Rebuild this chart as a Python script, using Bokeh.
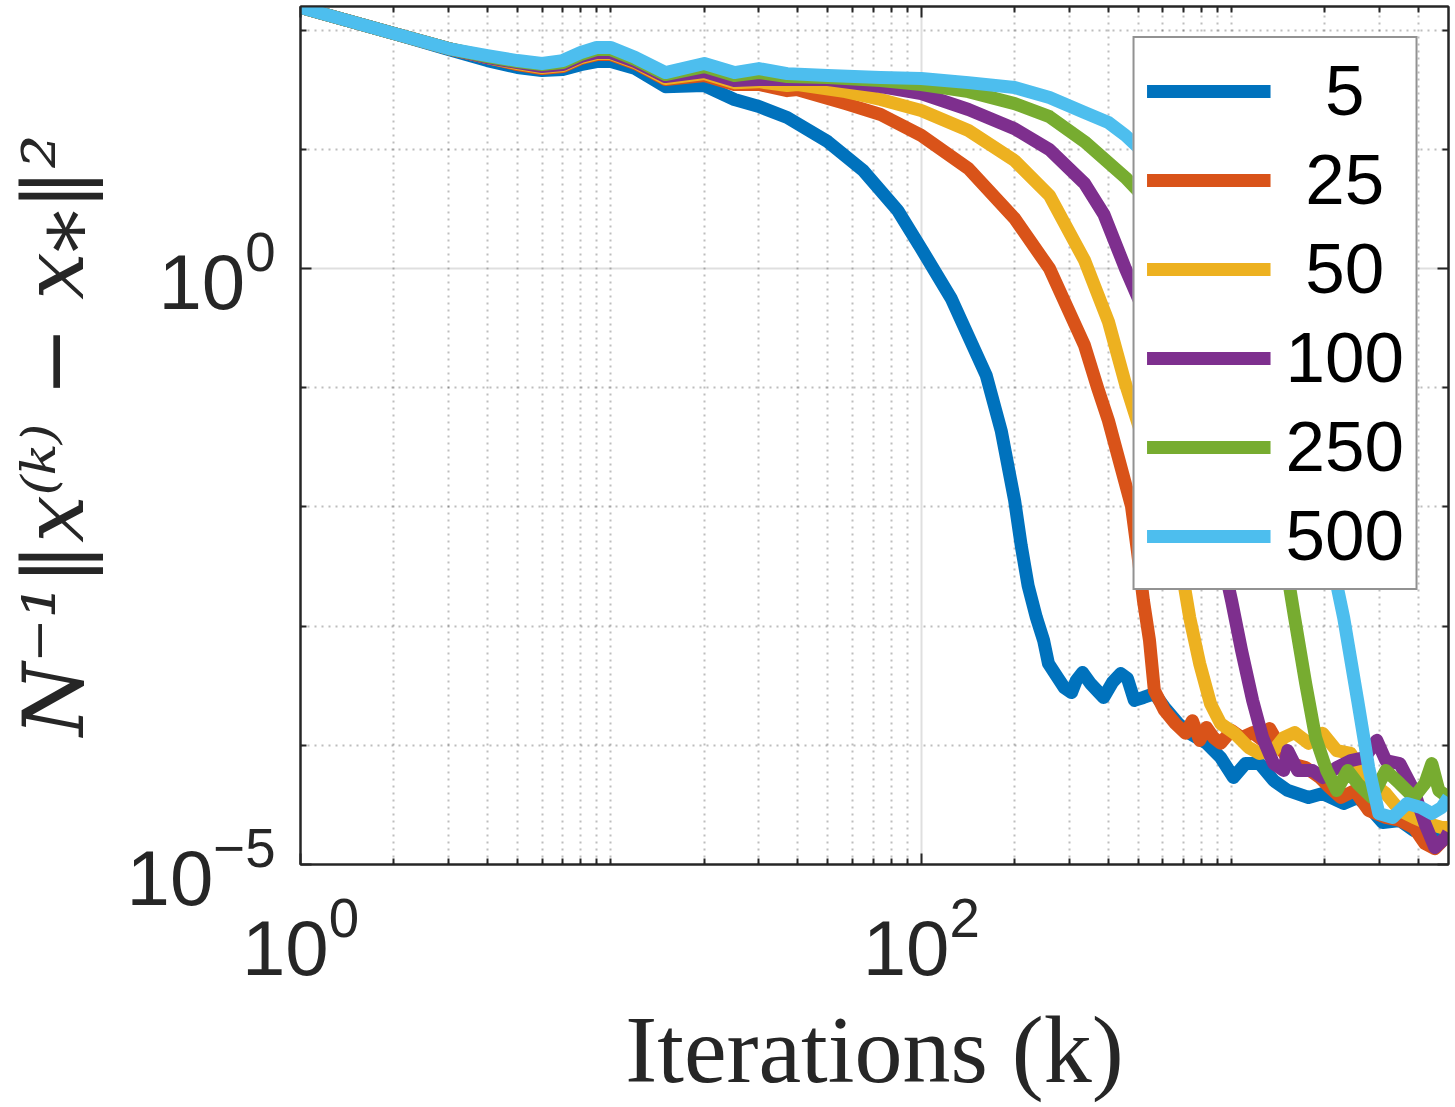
from bokeh.plotting import figure
from bokeh.models import Range1d, FixedTicker, LogAxis, Legend, LegendItem
from bokeh.embed import file_html
from bokeh.resources import INLINE

# ---------------- data ----------------
series_labels = ["5", "25", "50", "100", "250", "500"]
legend_texts = ["\u20075", "\u200825", "\u200850", "100", "250", "500"]
series_colors = ["#0072BD", "#D95319", "#EDB120", "#7E2F8E", "#77AC30", "#4DBEEE"]

k_5 = [1, 2, 3, 4, 5, 6, 7, 8, 9, 10, 12, 15, 20, 25, 30, 37, 50, 65, 84, 100,
       125, 162, 181, 200, 210, 221, 235, 248, 257, 275, 289, 305, 316, 331, 351,
       387, 413, 439, 462, 486, 520, 564, 608, 674, 733, 830, 922, 1014, 1109,
       1231, 1366, 1517, 1771, 1966, 2297, 2548, 2831, 3070, 3483, 3866, 4289,
       4757, 5000]
v_5 = [155, 93.6, 68.7, 55.6, 48.6, 45.8, 46.7, 51.4, 54.5, 54.5, 47.6, 33.6,
       34.3, 26.2, 22.9, 18.5, 11.6, 6.64, 3.07, 1.47, 0.560, 0.127, 0.0437,
       0.0113, 0.00474, 0.00219, 0.00118, 7.57e-4, 4.86e-4, 3.71e-4, 3.05e-4,
       2.77e-4, 3.50e-4, 4.08e-4, 3.30e-4, 2.52e-4, 3.37e-4, 4.00e-4, 3.63e-4,
       2.38e-4, 2.52e-4, 2.72e-4, 2.08e-4, 1.52e-4, 1.26e-4, 1.04e-4, 7.90e-5,
       5.37e-5, 7.03e-5, 7.03e-5, 5.07e-5, 4.18e-5, 3.65e-5, 3.94e-5, 3.25e-5,
       3.65e-5, 2.84e-5, 2.25e-5, 2.34e-5, 1.93e-5, 2.04e-5, 1.82e-5, 1.93e-5]

k_25 = [1, 2, 3, 4, 5, 6, 7, 8, 9, 10, 12, 15, 20, 25, 30, 37, 40, 57, 74, 100,
        142, 200, 259, 336, 370, 401, 476, 497, 520, 544, 564, 608, 659, 711,
        748, 789, 830, 875, 922, 1000, 1077, 1169, 1259, 1326, 1439, 1549, 1733,
        1923, 2070, 2248, 2494, 2766, 3141, 3483, 3866, 4196, 4519, 4898, 5000]
v_25 = [155, 93.6, 70.1, 58.9, 51.4, 47.6, 49.5, 57.8, 62.4, 62.4, 52.5, 38.5,
        41.6, 35.0, 35.0, 31.1, 31.7, 24.2, 19.6, 13.1, 6.90, 2.63, 1.0, 0.226,
        0.100, 0.0531, 0.0101, 0.00431, 0.00164, 7.57e-4, 2.88e-4, 1.96e-4,
        1.52e-4, 1.26e-4, 1.61e-4, 1.10e-4, 1.41e-4, 1.16e-4, 1.04e-4, 1.33e-4,
        1.16e-4, 1.28e-4, 1.10e-4, 1.38e-4, 9.59e-5, 7.03e-5, 6.51e-5, 5.37e-5,
        4.43e-5, 3.65e-5, 4.18e-5, 2.84e-5, 2.48e-5, 2.34e-5, 2.04e-5, 1.50e-5,
        1.36e-5, 1.68e-5, 1.85e-5]

k_50 = [1, 2, 3, 4, 5, 6, 7, 8, 9, 10, 12, 15, 20, 25, 30, 37, 40, 57, 74, 100,
        142, 200, 259, 336, 401, 455, 520, 594, 674, 733, 789, 855, 922, 1023,
        1135, 1231, 1366, 1472, 1596, 1771, 1966, 2182, 2421, 2685, 3141, 3483,
        3866, 4289, 4757, 5000]
v_50 = [155, 93.6, 70.1, 58.9, 52.5, 48.6, 50.5, 58.9, 63.6, 63.6, 53.5, 39.3,
        43.2, 36.3, 37.0, 34.3, 35.0, 30.5, 26.2, 21.2, 14.4, 8.05, 4.10, 1.17,
        0.359, 0.108, 0.0361, 0.00933, 0.00431, 0.00118, 4.86e-4, 2.24e-4,
        1.52e-4, 1.26e-4, 9.59e-5, 8.54e-5, 9.04e-5, 1.16e-4, 1.28e-4, 1.04e-4,
        1.26e-4, 9.04e-5, 8.54e-5, 5.37e-5, 3.94e-5, 2.84e-5, 2.48e-5, 2.21e-5,
        2.04e-5, 2.04e-5]

k_100 = [1, 2, 3, 4, 5, 6, 7, 8, 9, 10, 12, 15, 20, 25, 30, 37, 50, 74, 100,
         142, 200, 259, 336, 388, 455, 555, 687, 800, 922, 1000, 1077, 1169,
         1259, 1366, 1472, 1517, 1633, 1824, 1966, 2182, 2421, 2685, 2938, 3141,
         3483, 3866, 4196, 4519, 4898, 5000]
v_100 = [155, 93.6, 70.1, 58.9, 53.5, 49.5, 51.4, 60.1, 64.9, 64.9, 54.5, 40.8,
         44.9, 37.8, 38.5, 38.5, 38.5, 33.6, 29.4, 21.6, 14.9, 9.96, 5.17, 2.84,
         1.0, 0.302, 0.0531, 0.0137, 0.00431, 0.00164, 6.24e-4, 2.38e-4,
         1.16e-4, 7.03e-5, 6.15e-5, 9.04e-5, 6.15e-5, 6.15e-5, 5.37e-5, 6.51e-5,
         7.45e-5, 7.90e-5, 1.10e-4, 7.45e-5, 7.03e-5, 4.18e-5, 2.21e-5, 1.39e-5,
         1.68e-5, 1.85e-5]

k_250 = [1, 2, 3, 4, 5, 6, 7, 8, 9, 10, 12, 15, 20, 25, 30, 37, 50, 74, 100,
         142, 200, 259, 336, 455, 594, 800, 1077, 1290, 1472, 1596, 1733, 1866,
         2025, 2182, 2367, 2548, 2831, 3141, 3483, 3866, 4196, 4417, 4654, 5000]
v_250 = [155, 93.6, 70.1, 60.1, 54.5, 51.4, 53.5, 62.4, 68.7, 68.7, 56.7, 42.4,
         49.5, 41.6, 44.1, 40.8, 40.0, 37.8, 35.0, 30.5, 24.2, 18.8, 11.6, 5.80,
         2.78, 0.654, 0.0781, 0.0137, 0.00431, 0.00118, 3.30e-4, 1.16e-4,
         6.15e-5, 4.18e-5, 6.15e-5, 4.78e-5, 3.65e-5, 6.15e-5, 4.78e-5, 3.65e-5,
         4.78e-5, 7.03e-5, 4.18e-5, 3.65e-5]

k_500 = [1, 2, 3, 4, 5, 6, 7, 8, 9, 10, 12, 15, 20, 25, 30, 37, 50, 74, 100,
         142, 200, 259, 336, 401, 455, 600, 900, 1300, 1700, 2070, 2297, 2548,
         2766, 2981, 3306, 3673, 4074, 4417, 4757, 5000]
v_500 = [155, 93.6, 70.1, 61.2, 55.6, 52.5, 55.6, 64.9, 71.5, 71.5, 58.9, 44.1,
         52.5, 44.1, 47.6, 43.2, 41.6, 40.0, 39.3, 36.3, 33.0, 27.2, 20.4, 16.8,
         13.1, 6.64, 1.72, 0.249, 0.0361, 0.00431, 0.00118, 2.38e-4, 6.51e-5,
         2.68e-5, 2.48e-5, 3.25e-5, 3.01e-5, 2.68e-5, 3.01e-5, 3.65e-5]

x_major_ticks = [1, 100]
x_minor_ticks = [2, 3, 4, 5, 6, 7, 8, 9, 10, 20, 30, 40, 50, 60, 70, 80, 90,
                 200, 300, 400, 500, 600, 700, 800, 900, 1000, 2000, 3000, 4000]
y_major_ticks = [1e-5, 1]
y_minor_ticks = [1e-4, 1e-3, 1e-2, 1e-1, 10, 100]

x_limits = (1, 5000)
y_limits = (1e-5, 158)

all_k = [k_5, k_25, k_50, k_100, k_250, k_500]
all_v = [v_5, v_25, v_50, v_100, v_250, v_500]

# ---------------- figure ----------------
DARK = "#262626"
p = figure(width=1455, height=1107, x_axis_type="log", y_axis_type="log",
           x_range=Range1d(*x_limits), y_range=Range1d(*y_limits),
           output_backend="svg", toolbar_location=None,
           min_border_left=300, min_border_right=7, min_border_top=6,
           min_border_bottom=243)
p.background_fill_color = "white"
p.border_fill_color = "white"
p.outline_line_color = DARK
p.outline_line_width = 2

xt = FixedTicker(ticks=x_major_ticks, minor_ticks=x_minor_ticks)
yt = FixedTicker(ticks=y_major_ticks, minor_ticks=y_minor_ticks)

xax = p.xaxis[0]
yax = p.yaxis[0]


def style_axis(ax, ticker, labels=True):
    ax.ticker = ticker
    ax.major_tick_in = 11
    ax.major_tick_out = 0
    ax.minor_tick_in = 6
    ax.minor_tick_out = 0
    ax.major_tick_line_color = DARK
    ax.minor_tick_line_color = DARK
    ax.major_tick_line_width = 2
    ax.minor_tick_line_width = 2
    ax.axis_line_color = DARK
    ax.axis_line_width = 2
    if labels:
        ax.major_label_text_font = "Liberation Sans"
        ax.major_label_text_font_size = "78px"
        ax.major_label_text_color = DARK
    else:
        ax.major_label_text_font_size = "1px"
        ax.major_label_text_color = None
        ax.major_label_standoff = 0


style_axis(xax, xt)
style_axis(yax, yt)
xax.major_label_standoff = 30
yax.major_label_standoff = 25

xax.axis_label = "Iterations (k)"
yax.axis_label = "N\u207b\u00b9\u2016x\u207d\u1d4f\u207e \u2212 x\u204e\u2016\u00b2"
xax.axis_label_text_font = "Liberation Serif"
xax.axis_label_text_font_size = "96px"
xax.axis_label_text_font_style = "normal"
yax.axis_label_text_font = "DejaVu Serif"
yax.axis_label_text_font_size = "84px"
yax.axis_label_text_font_style = "italic"
for ax in (xax, yax):
    ax.axis_label_text_color = DARK
xax.axis_label_standoff = 18
yax.axis_label_standoff = 20

top_ax = LogAxis()
right_ax = LogAxis()
style_axis(top_ax, xt, labels=False)
style_axis(right_ax, yt, labels=False)
p.add_layout(top_ax, "above")
p.add_layout(right_ax, "right")

for g, t in ((p.xgrid[0], xt), (p.ygrid[0], yt)):
    g.ticker = t
    g.grid_line_color = DARK
    g.grid_line_alpha = 0.15
    g.grid_line_width = 2
    g.minor_grid_line_color = DARK
    g.minor_grid_line_alpha = 0.3
    g.minor_grid_line_width = 2
    g.minor_grid_line_dash = "2 5"

renderers = []
for kk, vv, col in zip(all_k, all_v, series_colors):
    r = p.line(kk, vv, line_color=col, line_width=13, line_join="round")
    renderers.append(r)

legend = Legend(items=[LegendItem(label=t, renderers=[r])
                       for t, r in zip(legend_texts, renderers)],
                location="top_right", margin=30, padding=12, spacing=8,
                glyph_width=124, glyph_height=74, label_height=74,
                label_standoff=15,
                label_text_font="Liberation Sans", label_text_font_size="71px",
                label_text_color="black",
                border_line_color=DARK, border_line_width=2,
                background_fill_color="white", background_fill_alpha=1.0)
p.add_layout(legend)

open("out.html", "w").write(file_html(p, INLINE))
